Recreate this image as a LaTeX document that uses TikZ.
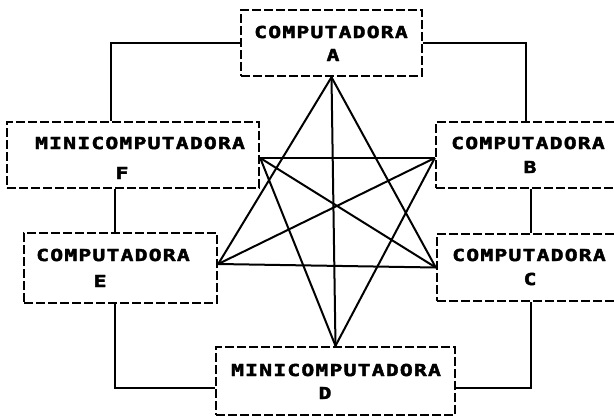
\documentclass[tikz,border=0pt]{standalone}
\usepackage{fontspec}
\newfontfamily\pix[FakeStretch=1.3,LetterSpace=7,BoldFeatures={FakeBold=2.5}]{DejaVu Sans Mono}
\tikzset{
  box/.style={draw, line width=2.4pt, dash pattern=on 9pt off 3pt, rectangle, inner sep=0pt},
  lbl/.style={inner sep=0pt, font=\pix\bfseries\fontsize{16.5}{19}\selectfont},
  wire/.style={line width=2pt},
}
\begin{document}
\begin{tikzpicture}[x=1pt,y=-1pt]
\useasboundingbox (0,0) rectangle (614,418);
\clip (0,0) rectangle (614,418);
% boxes
\node[box, minimum width=181pt, minimum height=66pt] (A) at (331.5,43) {};
\node[box, minimum width=252pt, minimum height=66pt] (F) at (133,155) {};
\node[box, minimum width=194pt, minimum height=66pt] (B) at (533,155) {};
\node[box, minimum width=193pt, minimum height=70pt] (E) at (120.5,268) {};
\node[box, minimum width=193pt, minimum height=67pt] (C) at (533.5,267.5) {};
\node[box, minimum width=239pt, minimum height=68pt] (D) at (335.5,381) {};
% labels
\node[lbl] (A1) at (331,32) {COMPUTADORA};
\node[lbl] (A2) at (333,55) {A};
\node[lbl] (F1) at (140,143) {MINICOMPUTADORA};
\node[lbl] (F2) at (122,173) {F};
\node[lbl] (B1) at (528,143) {COMPUTADORA};
\node[lbl] (B2) at (530,167) {B};
\node[lbl] (C1) at (529,255) {COMPUTADORA};
\node[lbl] (C2) at (530,279) {C};
\node[lbl] (E1) at (113,255) {COMPUTADORA};
\node[lbl] (E2) at (100,281) {E};
\node[lbl] (D1) at (336,370) {MINICOMPUTADORA};
\node[lbl] (D2) at (325,393) {D};
% ring
\draw[wire] (A.west) -| ([xshift=-22pt]F.north);
\draw[wire] ([xshift=-18pt]F.south) -- ([xshift=-18pt]F.south |- E.north);
\draw[wire] ([xshift=-5.5pt]E.south) |- ([yshift=-7pt]D.west);
\draw[wire] ([yshift=-7pt]D.east) -| ([xshift=-2.5pt]C.south);
\draw[wire] ([xshift=-2.5pt]C.north) -- ([xshift=-2.5pt]C.north |- B.south);
\draw[wire] ([xshift=-7pt]B.north) |- (A.east);
% star
\coordinate (a) at (A.south);
\coordinate (d) at (D.north);
\coordinate (f) at ([yshift=-3pt]F.east);
\coordinate (b) at ([yshift=-3pt]B.west);
\coordinate (e) at ([yshift=4pt]E.east);
\coordinate (c) at (C.west);
\draw[wire] (a) -- (e);
\draw[wire] (a) -- (d);
\draw[wire] (a) -- (c);
\draw[wire] (f) -- (b);
\draw[wire] (f) -- (d);
\draw[wire] (f) -- (c);
\draw[wire] (b) -- (e);
\draw[wire] (b) -- (d);
\draw[wire] (e) -- (c);
\end{tikzpicture}
\end{document}
